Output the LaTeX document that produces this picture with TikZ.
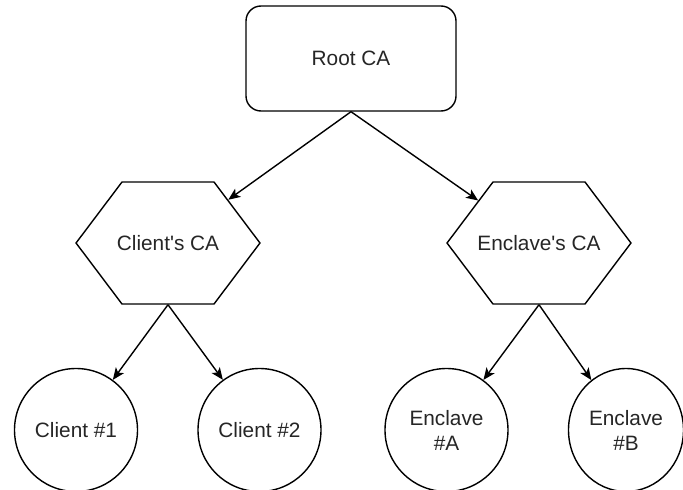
\documentclass[tikz,border=0pt]{standalone}
\usepackage{fontspec}
\newfontfamily\lblfont{Liberation Sans}
\usetikzlibrary{shapes.symbols,shapes.geometric,arrows.meta}

% hexagon label: fixed 92pt body, wider text may overhang the flat edges
\newcommand{\hexlabel}[1]{\makebox[92pt][c]{#1}}

\tikzset{
  base/.style={draw=black, line width=1.4pt, fill=white, inner sep=0pt,
               font=\lblfont\fontsize{20.8}{25}\selectfont, text=black!85, align=center},
  rootbox/.style={base, rectangle, rounded corners=15pt,
                  minimum width=210pt, minimum height=105pt},
  hexbox/.style={base, signal, signal to=east and west,
                 signal pointer angle=106, minimum height=122pt},
  leafbox/.style={base, circle, minimum size=123pt},
  narrowleaf/.style={base, ellipse, minimum width=115pt, minimum height=123pt},
  link/.style={draw=black, line width=1.4pt,
               -{Stealth[length=12pt, width=10pt, inset=3pt]}}
}

\begin{document}
\begin{tikzpicture}[x=1pt, y=-1pt]
  \useasboundingbox (0,0) rectangle (683,490);

  % certificate authorities
  \node[rootbox] (root) at (351,58.5) {Root CA};
  \node[hexbox]  (cca)  at (168,243)  {\hexlabel{Client's CA}};
  \node[hexbox]  (eca)  at (539,243)  {\hexlabel{Enclave's CA}};

  % leaf certificates
  \node[leafbox]    (c1) at (76,430)    {Client \#1};
  \node[leafbox]    (c2) at (259.5,430) {Client \#2};
  \node[leafbox]    (ea) at (446.5,430) {Enclave\\\#A};
  \node[narrowleaf] (eb) at (626,430)   {Enclave\\\#B};

  % issuing relations
  \draw[link] (root.south) -- (cca);
  \draw[link] (root.south) -- (eca);
  \draw[link] (cca.south) -- (c1);
  \draw[link] (cca.south) -- (c2);
  \draw[link] (eca.south) -- (ea);
  \draw[link] (eca.south) -- (eb);
\end{tikzpicture}
\end{document}
